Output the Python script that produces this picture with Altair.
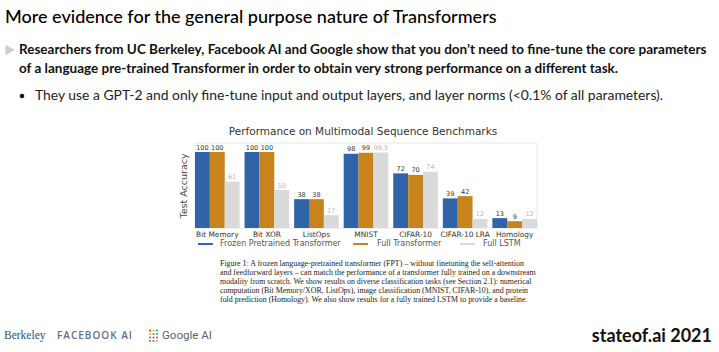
import altair as alt
import pandas as pd

# ---------------- data ----------------
categories = ["Bit Memory", "Bit XOR", "ListOps", "MNIST", "CIFAR-10", "CIFAR-10 LRA", "Homology"]
series = ["Frozen Pretrained Transformer", "Full Transformer", "Full LSTM"]
frozen_vals = [100, 100, 38, 98, 72, 39, 13]
full_tf_vals = [100, 100, 38, 99, 70, 42, 9]
lstm_vals = [61, 50, 17, 99.5, 74, 12, 12]

slide_title = "More evidence for the general purpose nature of Transformers"
lead_lines = [
    "Researchers from UC Berkeley, Facebook AI and Google show that you don\u2019t need to fine-tune the core parameters",
    "of a language pre-trained Transformer in order to obtain very strong performance on a different task.",
]
bullet_text = "They use a GPT-2 and only fine-tune input and output layers, and layer norms (<0.1% of all parameters)."
chart_title = "Performance on Multimodal Sequence Benchmarks"
y_title = "Test Accuracy"
caption_lines = [
    "Figure 1:  A frozen language-pretrained transformer (FPT) \u2013 without finetuning the self-attention",
    "and feedforward layers \u2013 can match the performance of a transformer fully trained on a downstream",
    "modality from scratch. We show results on diverse classification tasks (see Section 2.1): numerical",
    "computation (Bit Memory/XOR, ListOps), image classification (MNIST, CIFAR-10), and protein",
    "fold prediction (Homology). We also show results for a fully trained LSTM to provide a baseline.",
]
footer_right = "stateof.ai 2021"
footer_logos = ["Berkeley", "FACEBOOK AI", "Google AI"]

# ---------------- styles ----------------
BLUE = "#2f64a8"
ORANGE = "#c8841c"
GRAY = "#dadada"
SANS = "Lato"
MPL = "DejaVu Sans"
SERIF = "Liberation Serif"

rows = []
for vals, s in zip([frozen_vals, full_tf_vals, lstm_vals], series):
    for c, v in zip(categories, vals):
        lab = str(v) if isinstance(v, float) else str(int(v))
        rows.append({"category": c, "series": s, "value": v, "label": lab,
                     "lcolor": "#b8b8b8" if s == "Full LSTM" else "#333333"})
df = pd.DataFrame(rows)

xscale = alt.Scale(domain=categories, range=[195, 537], paddingInner=0.1, paddingOuter=0.0)
yscale = alt.Scale(domain=[0, 112], range=[228, 143])


def txt(s, x, y, size, font=SANS, weight="normal", color="#111111", align="left",
        angle=0, style="normal"):
    kw = dict(align=align, baseline="middle", fontSize=size, font=font,
              fontWeight=weight, color=color, fontStyle=style)
    if angle:
        kw["angle"] = angle
    return alt.Chart(pd.DataFrame({"t": [s]})).mark_text(**kw).encode(
        x=alt.value(x), y=alt.value(y), text="t:N")


def rule(x1, x2, y, color, width=2):
    return alt.Chart(pd.DataFrame({"a": [0]})).mark_rule(color=color, strokeWidth=width).encode(
        x=alt.value(x1), x2=alt.value(x2), y=alt.value(y))


def dot(x, y, color, size, shape="circle"):
    return alt.Chart(pd.DataFrame({"a": [0]})).mark_point(
        filled=True, color=color, size=size, shape=shape, opacity=1).encode(
        x=alt.value(x), y=alt.value(y))


layers = []

# slide texts
layers.append(txt(slide_title, 5, 18, 18, weight=500, color="#000000"))
layers.append(dot(10, 50, "#cfcfcf", 110, "triangle-right"))
layers.append(txt(lead_lines[0], 19, 50, 13.5, weight="bold"))
layers.append(txt(lead_lines[1], 19, 69, 13.5, weight="bold"))
layers.append(dot(22, 96, "#111111", 22))
layers.append(txt(bullet_text, 35, 96, 13.9, color="#222222"))

# embedded chart frame
frame = alt.Chart(pd.DataFrame({"a": [0]})).mark_rect(
    fillOpacity=0, stroke="#e8e8e8", strokeWidth=1).encode(
    x=alt.value(195), x2=alt.value(537), y=alt.value(143), y2=alt.value(228))
layers.append(frame)

bars = alt.Chart(df).mark_bar().encode(
    x=alt.X("category:N", sort=categories, scale=xscale, axis=None),
    xOffset=alt.XOffset("series:N", sort=series, scale=alt.Scale(domain=series, paddingInner=0, paddingOuter=0)),
    y=alt.Y("value:Q", scale=yscale, axis=None),
    color=alt.Color("series:N", scale=alt.Scale(domain=series, range=[BLUE, ORANGE, GRAY]), legend=None),
)
layers.append(bars)

vlabels = alt.Chart(df).mark_text(fontSize=6.5, font=MPL, baseline="bottom", dy=-1.5).encode(
    x=alt.X("category:N", sort=categories, scale=xscale, axis=None),
    xOffset=alt.XOffset("series:N", sort=series),
    y=alt.Y("value:Q", scale=yscale, axis=None),
    text="label:N",
    color=alt.Color("lcolor:N", scale=None),
)
layers.append(vlabels)

catlabels = alt.Chart(pd.DataFrame({"category": categories})).mark_text(
    fontSize=7.4, font=MPL, baseline="middle", color="#333333").encode(
    x=alt.X("category:N", sort=categories, scale=xscale, axis=None),
    y=alt.value(235), text="category:N")
layers.append(catlabels)

layers.append(txt(chart_title, 363, 132, 10.5, font=MPL, color="#333333", align="center"))
layers.append(txt(y_title, 184, 186, 9.5, font=MPL, color="#444444", align="center", angle=270))

# legend
leg_x = [(198, 213, 220), (353, 368, 377), (460, 475, 483)]
for (x1, x2, tx), col, s in zip(leg_x, [BLUE, ORANGE, GRAY], series):
    layers.append(rule(x1, x2, 244, col, 2))
    layers.append(txt(s, tx, 244, 8, font=MPL, color="#555555"))

# caption
for i, line in enumerate(caption_lines):
    layers.append(txt(line, 220, 264 + i * 9.1, 7.9, font=SERIF, color="#222222"))

# footer
layers.append(txt(footer_logos[0], 4, 336, 11.5, font=SERIF, color="#2c4f8c"))
layers.append(txt("\u200a".join(footer_logos[1]), 57, 336, 10, font="Open Sans", color="#5d6f8e", weight=600))
g_cols = ["#ea4335", "#fbbc05", "#34a853", "#4285f4"]
for i in range(4):
    for j in range(3):
        layers.append(dot(150 + j * 3.5, 330.5 + i * 3.5, g_cols[(i + j) % 4], 5))
layers.append(txt(footer_logos[2], 162, 336, 11.5, font="Roboto", color="#5f6368"))
layers.append(txt(footer_right, 712, 337, 18, weight="bold", align="right"))

chart = alt.layer(*layers).properties(
    width=719, height=352, padding=0,
    autosize=alt.AutoSizeParams(type="none"),
    background="white",
).configure_view(stroke=None)

chart.save("out.html", embed_options={"renderer": "svg", "actions": False})
